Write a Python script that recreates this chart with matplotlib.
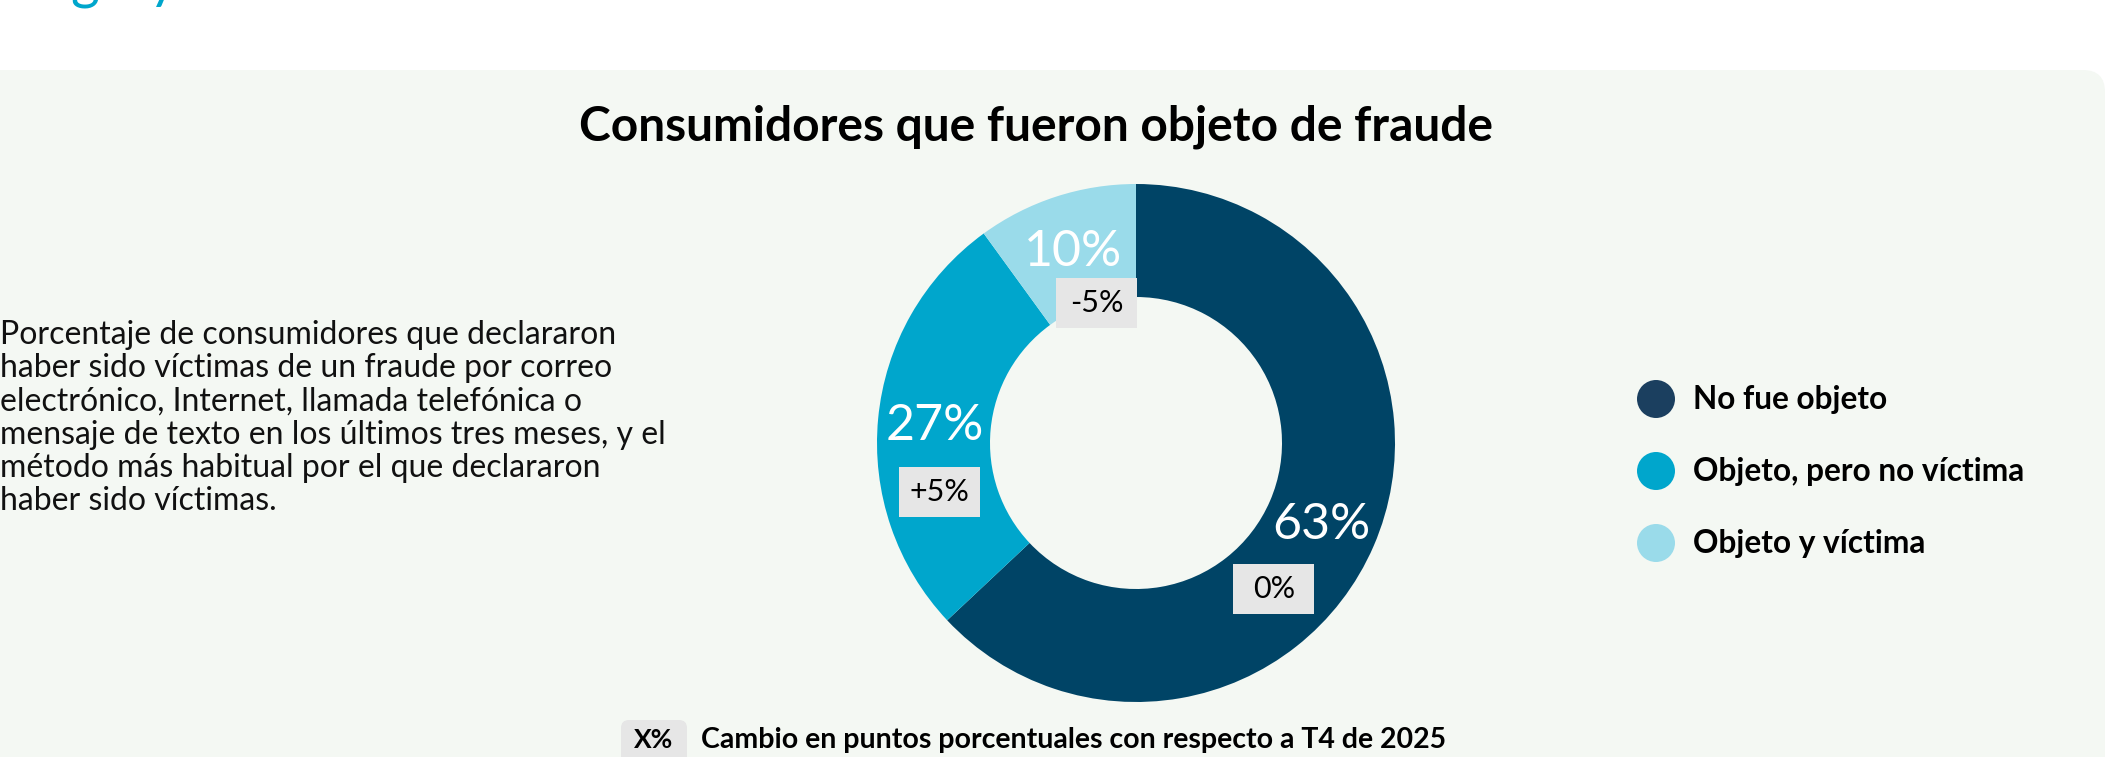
import matplotlib
matplotlib.use("Agg")
import matplotlib.pyplot as plt
from matplotlib.patches import FancyBboxPatch, Circle
import math

# ---- data ----
categories = ["No fue objeto", "Objeto, pero no víctima", "Objeto y víctima"]
shares = [63, 27, 10]
changes = ["0%", "+5%", "-5%"]
title = "Consumidores que fueron objeto de fraude"
description = ("Porcentaje de consumidores que declararon\n"
               "haber sido víctimas de un fraude por correo\n"
               "electrónico, Internet, llamada telefónica o\n"
               "mensaje de texto en los últimos tres meses, y el\n"
               "método más habitual por el que declararon\n"
               "haber sido víctimas.")
footnote = "Cambio en puntos porcentuales con respecto a T4 de 2025"

# ---- style ----
W, H = 2109, 757
pie_colors = ["#004466", "#00A6CC", "#9ADBEA"]
legend_colors = ["#1B3F5F", "#00A6CC", "#9ADBEA"]
panel_color = "#F4F8F3"
box_color = "#E6E6E6"
FONT = ["Lato", "DejaVu Sans"]

def Y(y):
    return H - y

fig = plt.figure(figsize=(W / 100, H / 100), dpi=100)
fig.patch.set_facecolor("white")
ax = fig.add_axes([0, 0, 1, 1])

# background panel
panel = FancyBboxPatch((-40, Y(800)), 2105 + 40, 800 - 70,
                       boxstyle="round,pad=0,rounding_size=22",
                       facecolor=panel_color, edgecolor="none", zorder=0)
ax.add_patch(panel)

# cut-off heading fragments at top (only descenders visible)
ax.text(70, Y(-3), "g", color="#00A6CC", fontsize=40, family=FONT,
        ha="left", va="baseline", zorder=1)
ax.text(148, Y(-3), "y", color="#00A6CC", fontsize=40, family=FONT,
        ha="left", va="baseline", zorder=1)

# donut
cx, cy, R, ring = 1136, 443, 259, 113
wedges, _ = ax.pie(shares, colors=pie_colors, startangle=90, counterclock=False,
                   center=(cx, Y(cy)), radius=R,
                   wedgeprops=dict(width=ring, edgecolor="none"))

total = sum(shares)
cum = 0
label_r = R - ring / 2
box_offsets = [(-48, 66), (5, 68), (23, 53)]
for i, v in enumerate(shares):
    mid = 90 - (cum + v / 2) / total * 360
    cum += v
    lx = cx + label_r * math.cos(math.radians(mid))
    ly = cy - label_r * math.sin(math.radians(mid))
    ax.text(lx, Y(ly + 2), f"{v}%", color="white", fontsize=36, family=FONT,
            ha="center", va="center", zorder=5)
    bx, by = lx + box_offsets[i][0], ly + box_offsets[i][1]
    ax.add_patch(plt.Rectangle((bx - 40.5, Y(by + 25)), 81, 50,
                               facecolor=box_color, edgecolor="none", zorder=5))
    ax.text(bx, Y(by), changes[i], color="black", fontsize=22, family=FONT,
            ha="center", va="center", zorder=6)

# title
ax.text(1036, Y(127), title, fontsize=34.5, fontweight="bold", family=FONT,
        ha="center", va="center", color="black", zorder=5)

# description
ax.text(0, Y(418), description, fontsize=23, family=FONT, ha="left",
        va="center", color="#111111", linespacing=1.14, zorder=5)

# legend
legend_y = [399, 471, 543]
for c, name, ly in zip(legend_colors, categories, legend_y):
    ax.add_patch(Circle((1656, Y(ly)), 19, facecolor=c, edgecolor="none", zorder=5))
    ax.text(1693, Y(ly), name, fontsize=22.8, fontweight="bold", family=FONT,
            ha="left", va="center", color="black", zorder=5)

# footnote
ax.add_patch(FancyBboxPatch((621, Y(770)), 66, 50,
                            boxstyle="round,pad=0,rounding_size=8",
                            facecolor=box_color, edgecolor="none", zorder=5))
ax.text(654, Y(740), "X%", fontsize=19, fontweight="bold", family=FONT,
        ha="center", va="center", color="black", zorder=6)
ax.text(701, Y(740), footnote, fontsize=20.5, fontweight="bold", family=FONT,
        ha="left", va="center", color="black", zorder=6)

ax.set_xlim(0, W)
ax.set_ylim(0, H)
ax.set_aspect("equal")
ax.axis("off")

fig.savefig("out.png", dpi=100, facecolor="white")
